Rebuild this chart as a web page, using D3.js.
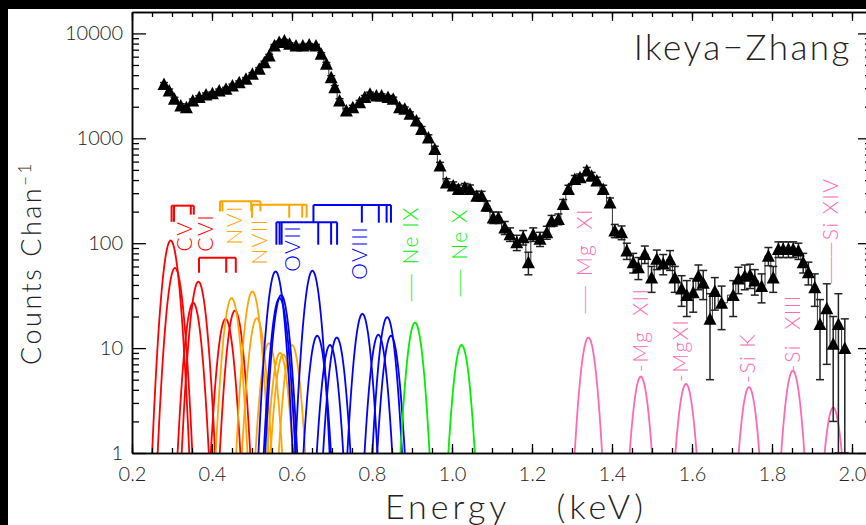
<!DOCTYPE html>
<html>
<head>
<meta charset="utf-8">
<script src="https://cdn.jsdelivr.net/npm/d3@7"></script>
<style>
  body { margin: 0; background: #fff; }
  svg { display: block; font-family: Lato, "Open Sans", sans-serif; font-weight: 300; }
</style>
</head>
<body>
<div id="chart"></div>
<script>
// observed spectrum (keV, counts per channel, 1-sigma error)
const energy = [0.280, 0.293, 0.306, 0.322, 0.336, 0.352, 0.368, 0.385, 0.401, 0.418, 0.435, 0.451, 0.468, 0.485,
  0.501, 0.518, 0.531, 0.543, 0.556, 0.568, 0.581, 0.594, 0.610, 0.627, 0.643, 0.660, 0.673, 0.686, 0.698, 0.707,
  0.719, 0.736, 0.752, 0.769, 0.782, 0.795, 0.811, 0.824, 0.840, 0.853, 0.869, 0.882, 0.895, 0.911, 0.924, 0.941,
  0.957, 0.970, 0.986, 1.003, 1.016, 1.032, 1.045, 1.062, 1.074, 1.087, 1.103, 1.116, 1.132, 1.145, 1.162, 1.178,
  1.191, 1.203, 1.220, 1.237, 1.249, 1.266, 1.278, 1.291, 1.307, 1.320, 1.337, 1.349, 1.362, 1.378, 1.395, 1.407,
  1.424, 1.437, 1.453, 1.466, 1.482, 1.499, 1.512, 1.528, 1.545, 1.557, 1.574, 1.587, 1.603, 1.616, 1.628, 1.645,
  1.657, 1.674, 1.703, 1.716, 1.732, 1.745, 1.757, 1.774, 1.791, 1.803, 1.816, 1.828, 1.841, 1.853, 1.866, 1.878,
  1.891, 1.907, 1.920, 1.937, 1.953, 1.966, 1.982];
const counts = [3300, 2860, 2380, 2060, 1980, 2290, 2470, 2620, 2690, 2860, 2970, 3190, 3430, 3690,
  4120, 4600, 5320, 6170, 7690, 8270, 8580, 7980, 7690, 7690, 7850, 7690, 6400, 5140, 3830, 3070,
  2290, 1840, 1980, 2210, 2470, 2660, 2560, 2560, 2470, 2380, 1980, 1910, 1710, 1480, 1230, 1020,
  790, 550, 380, 354, 329, 341, 329, 284, 284, 228, 176, 176, 141, 122, 102, 114,
  66, 122, 110, 127, 164, 170, 237, 329, 410, 425, 492, 440, 395, 329, 245, 132,
  127, 85, 66, 59, 79, 47, 71, 64, 70, 47, 37, 32, 34, 49, 42, 19,
  35, 27, 32, 46, 49, 50, 44, 39, 76, 47, 88, 88, 88, 88, 85, 66,
  53, 38, 17, 24, 11, 17, 10];
const errors = [100, 90, 80, 75, 75, 80, 80, 85, 85, 90, 90, 95, 95, 100,
  110, 120, 130, 140, 160, 170, 170, 165, 160, 160, 160, 160, 150, 135, 120, 110,
  95, 85, 85, 90, 90, 95, 95, 95, 90, 90, 85, 80, 75, 70, 65, 60,
  50, 40, 32, 30, 30, 30, 30, 28, 28, 25, 22, 22, 20, 18, 17, 18,
  16, 18, 17, 18, 20, 20, 24, 28, 32, 32, 35, 33, 31, 28, 25, 19,
  19, 15, 14, 14, 15, 13, 15, 14, 15, 13, 12, 12, 12, 13, 13, 14,
  12, 12, 12, 13, 13, 13, 12, 12, 15, 13, 15, 15, 15, 15, 15, 14,
  13, 13, 12, 17, 9, 16, 9];

// model emission lines
const peakEnergy = [0.2967, 0.3075, 0.353, 0.366, 0.434, 0.4575,
  0.449, 0.501, 0.512, 0.542, 0.570, 0.578, 0.600,
  0.559, 0.569, 0.573, 0.651, 0.663, 0.695, 0.712, 0.776, 0.816, 0.838, 0.8475,
  0.9075, 1.024,
  1.341, 1.472, 1.585, 1.7425, 1.852, 1.953];
const peakHeight = [106, 58, 27, 43, 19, 22.8,
  30, 34.7, 19.3, 11.1, 9, 8.7, 10.7,
  53.8, 30, 32, 54.6, 13.1, 10.7, 12.6, 21.2, 13.4, 19.7, 13.1,
  17.5, 10.7,
  12.6, 5.35, 4.56, 4.24, 6.1, 2.71];
const peakGroup = ["C", "C", "C", "C", "C", "C",
  "N", "N", "N", "N", "N", "N", "N",
  "O", "O", "O", "O", "O", "O", "O", "O", "O", "O", "O",
  "Ne", "Ne",
  "Mg", "Mg", "Mg", "Mg", "Mg", "Mg"];
const groupColor = { C: "#ff0000", N: "#ffa500", O: "#0000ff", Ne: "#00ee00", Mg: "#ff69b4" };
const sigma = 0.0152;

// line-identification brackets (energies in keV, heights in counts)
const bracketGroup = ["C", "C", "N", "N", "O", "O"];
const bracketLevel = [228, 72.7, 251, 233, 158.6, 231];
const bracketLines = [
  [0.299, 0.305, 0.347, 0.3545],
  [0.3675, 0.4355, 0.4595],
  [0.420, 0.426, 0.498, 0.521],
  [0.500, 0.593, 0.6255, 0.6365],
  [0.561, 0.569, 0.574, 0.6656, 0.6978, 0.7127],
  [0.6536, 0.7746, 0.817, 0.8365, 0.8474]
];
const bracketFoot = [
  [160, 160, 187, 187],
  [52.3, 52.3, 52.3],
  [201, 201, 201, 201],
  [175, 175, 175, 175],
  [96.8, 96.8, 96.8, 96.8, 96.8, 96.8],
  [157, 157, 157, 157, 157]
];

const labelText = ["CV", "CVI", "NVI", "NVII", "OVII", "OVIII", "\u2014\u2014 Ne IX", "\u2014\u2014 Ne X",
  "\u2014\u2014 Mg  XI", "-Mg  XII", "-MgXI", "-Si K", "-Si  XIII", "\u2014\u2014\u2014Si XIV"];
const labelEnergy = [0.349, 0.4025, 0.475, 0.5375, 0.62, 0.7875, 0.915, 1.0375, 1.35, 1.49, 1.59, 1.7575, 1.87, 1.965];
const labelCount = [83.5, 83, 96.8, 62.3, 53.4, 44.8, 27, 30, 20.8, 5.9, 4.76, 4.66, 5.9, 40];
const labelGroup = ["C", "C", "N", "N", "O", "O", "Ne", "Ne", "Mg", "Mg", "Mg", "Mg", "Mg", "Mg"];

const xMajor = [0.2, 0.4, 0.6, 0.8, 1.0, 1.2, 1.4, 1.6, 1.8, 2.0];
const yMajor = [1, 10, 100, 1000, 10000];

const width = 866, height = 525;
const margin = { left: 132, right: 872, top: 12, bottom: 453 };

const svg = d3.select("#chart").append("svg")
  .attr("width", width)
  .attr("height", height);

svg.append("rect").attr("width", width).attr("height", height).attr("fill", "#fff");

const x = d3.scaleLinear().domain([0.2, 2.05]).range([margin.left, margin.right]);
const y = d3.scaleLog().domain([1, 16000]).range([margin.bottom, margin.top]);

svg.append("clipPath").attr("id", "plot-clip")
  .append("rect")
  .attr("x", margin.left).attr("y", margin.top)
  .attr("width", margin.right - margin.left)
  .attr("height", margin.bottom - margin.top);

const plot = svg.append("g").attr("clip-path", "url(#plot-clip)");

// gaussian line profiles
const curve = d3.line().x(d => x(d[0])).y(d => y(d[1]));
peakEnergy.forEach((e0, i) => {
  const pts = d3.range(e0 - 0.08, e0 + 0.0801, 0.001)
    .map(e => [e, peakHeight[i] * Math.exp(-((e - e0) ** 2) / (2 * sigma * sigma))]);
  plot.append("path")
    .attr("d", curve(pts))
    .attr("fill", "none")
    .attr("stroke", groupColor[peakGroup[i]])
    .attr("stroke-width", 1.8);
});

// brackets
bracketLines.forEach((lines, i) => {
  const col = groupColor[bracketGroup[i]];
  const by = y(bracketLevel[i]);
  plot.append("line")
    .attr("x1", x(d3.min(lines))).attr("x2", x(d3.max(lines)))
    .attr("y1", by).attr("y2", by)
    .attr("stroke", col).attr("stroke-width", 2);
  lines.forEach((e, j) => {
    plot.append("line")
      .attr("x1", x(e)).attr("x2", x(e))
      .attr("y1", by).attr("y2", y(bracketFoot[i][j]))
      .attr("stroke", col).attr("stroke-width", 2);
  });
});

// line labels (leading dashes drawn tight so they read as one long dash)
labelText.forEach((t, i) => {
  const [, dash, rest] = t.match(/^(\u2014*)(.*)$/);
  const txt = svg.append("text")
    .attr("transform", `translate(${x(labelEnergy[i])},${y(labelCount[i])}) rotate(-90)`)
    .attr("fill", groupColor[labelGroup[i]])
    .attr("font-size", 21)
    .attr("xml:space", "preserve");
  if (dash) txt.append("tspan").attr("letter-spacing", -3).text(dash);
  txt.append("tspan").attr("letter-spacing", 1.5).text(dash ? "\u2009" + rest : rest);
});

// observed spectrum
const data = energy.map((e, i) => ({ e, c: counts[i], err: errors[i] }));

plot.append("path")
  .datum(data)
  .attr("d", d3.line().curve(d3.curveStep).x(d => x(d.e)).y(d => y(d.c)))
  .attr("fill", "none")
  .attr("stroke", "#333")
  .attr("stroke-width", 1);

const bars = plot.append("g").attr("stroke", "#222").attr("stroke-width", 1.5);
data.forEach(d => {
  const lo = d.c - d.err > 0.5 ? y(d.c - d.err) : margin.bottom;
  const hi = y(d.c + d.err);
  bars.append("line").attr("x1", x(d.e)).attr("x2", x(d.e)).attr("y1", lo).attr("y2", hi);
  bars.append("line").attr("x1", x(d.e) - 4).attr("x2", x(d.e) + 4).attr("y1", lo).attr("y2", lo);
  bars.append("line").attr("x1", x(d.e) - 4).attr("x2", x(d.e) + 4).attr("y1", hi).attr("y2", hi);
});

plot.append("g").selectAll("path")
  .data(data)
  .join("path")
  .attr("d", d => {
    const cx = x(d.e), cy = y(d.c);
    return `M${cx},${cy - 6.5}L${cx + 6.5},${cy + 6}L${cx - 6.5},${cy + 6}Z`;
  })
  .attr("fill", "#000");

// axes
const xMinor = d3.range(0.2, 2.051, 0.05);
const yMinor = d3.range(0, 5).flatMap(p => d3.range(2, 10).map(m => m * 10 ** p)).filter(v => v < 16000);

function styleAxis(g) {
  g.select(".domain").attr("stroke", "#000").attr("stroke-width", 1.5);
  g.selectAll(".tick line").attr("stroke", "#000").attr("stroke-width", 1.3);
  g.attr("font-family", null).attr("font-size", null);
  g.selectAll("text").attr("font-size", 20).attr("fill", "#222");
}

svg.append("g").attr("transform", `translate(0,${margin.bottom})`)
  .call(d3.axisBottom(x).tickValues(xMinor).tickSize(-5).tickSizeOuter(0).tickFormat(""))
  .call(styleAxis);
svg.append("g").attr("transform", `translate(0,${margin.bottom})`)
  .call(d3.axisBottom(x).tickValues(xMajor).tickSize(-9).tickSizeOuter(0).tickPadding(14).tickFormat(d3.format(".1f")))
  .call(styleAxis);
svg.append("g").attr("transform", `translate(0,${margin.top})`)
  .call(d3.axisTop(x).tickValues(xMinor).tickSize(-5).tickSizeOuter(0).tickFormat(""))
  .call(styleAxis);
svg.append("g").attr("transform", `translate(0,${margin.top})`)
  .call(d3.axisTop(x).tickValues(xMajor).tickSize(-9).tickSizeOuter(0).tickFormat(""))
  .call(styleAxis);

svg.append("g").attr("transform", `translate(${margin.left},0)`)
  .call(d3.axisLeft(y).tickValues(yMinor).tickSize(-7).tickSizeOuter(0).tickFormat(""))
  .call(styleAxis);
svg.append("g").attr("transform", `translate(${margin.left},0)`)
  .call(d3.axisLeft(y).tickValues(yMajor).tickSize(-14).tickSizeOuter(0).tickPadding(9).tickFormat(d3.format("d")))
  .call(styleAxis);
svg.append("g").attr("transform", `translate(${margin.right},0)`)
  .call(d3.axisRight(y).tickValues(yMinor).tickSize(-7).tickSizeOuter(0).tickFormat(""))
  .call(styleAxis);
svg.append("g").attr("transform", `translate(${margin.right},0)`)
  .call(d3.axisRight(y).tickValues(yMajor).tickSize(-14).tickSizeOuter(0).tickFormat(""))
  .call(styleAxis);

// titles
svg.append("text")
  .attr("x", 852).attr("y", 60)
  .attr("text-anchor", "end")
  .attr("font-size", 35)
  .attr("letter-spacing", 2.5)
  .attr("fill", "#222")
  .text("Ikeya\u2212Zhang");

svg.append("text")
  .attr("transform", "translate(41,365) rotate(-90)")
  .attr("font-size", 27)
  .attr("letter-spacing", 2.5)
  .attr("fill", "#222")
  .text("Counts Chan")
  .append("tspan")
  .attr("baseline-shift", "super")
  .attr("font-size", 17)
  .text("\u22121");

const xt = svg.append("text").attr("y", 519).attr("font-size", 34).attr("letter-spacing", 4).attr("fill", "#222");
xt.append("tspan").attr("x", 385).text("Energy");
xt.append("tspan").attr("x", 647).attr("text-anchor", "end").text("(keV)");

// dark frame of the original figure
svg.append("rect").attr("x", 0).attr("y", 0).attr("width", 8).attr("height", height).attr("fill", "#000");
svg.append("rect").attr("x", 0).attr("y", 0).attr("width", width).attr("height", 9).attr("fill", "#000");
</script>
</body>
</html>
